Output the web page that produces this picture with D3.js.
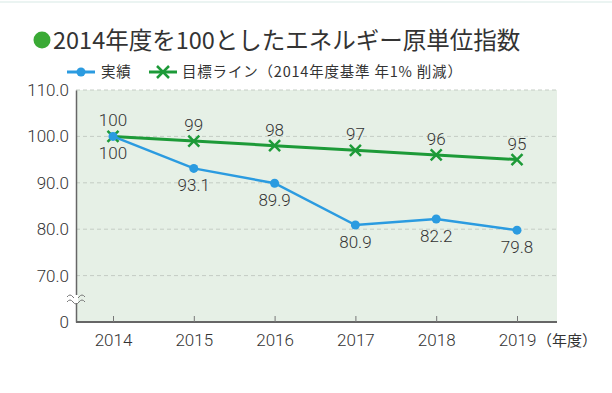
<!DOCTYPE html>
<html>
<head>
<meta charset="utf-8">
<script src="https://cdn.jsdelivr.net/npm/d3@7"></script>
<style>
	body { margin: 0; background: #fff; }
	text { font-family: "Noto Sans CJK JP", "Noto Sans", sans-serif; fill: #333; }
</style>
</head>
<body>
<svg id="chart" width="612" height="393"></svg>
<script>
// Data
var years = ["2014", "2015", "2016", "2017", "2018", "2019"];
var actual = [100, 93.1, 89.9, 80.9, 82.2, 79.8];
var actualLabels = ["100", "93.1", "89.9", "80.9", "82.2", "79.8"];
var target = [100, 99, 98, 97, 96, 95];
var targetLabels = ["100", "99", "98", "97", "96", "95"];
var yTicks = [60, 70, 80, 90, 100, 110];
var yTickLabels = ["0", "70.0", "80.0", "90.0", "100.0", "110.0"];

var blue = "#2b9be0",
	green = "#1d9a38",
	numFont = "Roboto, 'Noto Sans', sans-serif";

var svg = d3.select("#chart");

// Plot area
var pLeft = 76, pRight = 557, pTop = 90, pBottom = 322;

var x = d3.scalePoint()
	.domain(years)
	.range([113, 517]);

var y = d3.scaleLinear()
	.domain([60, 110])
	.range([pBottom, pTop]);

// faint top line
svg.append("line")
	.attr("x1", 0).attr("x2", 612)
	.attr("y1", 2).attr("y2", 2)
	.attr("stroke", "#e4f0ee")
	.attr("stroke-width", 1.5);

// Title
svg.append("circle")
	.attr("cx", 42).attr("cy", 40).attr("r", 8.5)
	.attr("fill", "#3aaa35");
svg.append("text")
	.attr("x", 53).attr("y", 49)
	.attr("font-size", 23.5)
	.text("2014年度を100としたエネルギー原単位指数");

// Legend
var lg = svg.append("g");
lg.append("line").attr("x1", 67).attr("x2", 95).attr("y1", 72).attr("y2", 72)
	.attr("stroke", blue).attr("stroke-width", 3);
lg.append("circle").attr("cx", 81).attr("cy", 72).attr("r", 4.5).attr("fill", blue);
lg.append("text").attr("x", 101).attr("y", 77).attr("font-size", 14.5)
	.attr("letter-spacing", 0.8).text("実績");

lg.append("line").attr("x1", 149).attr("x2", 177).attr("y1", 72).attr("y2", 72)
	.attr("stroke", green).attr("stroke-width", 3);
lg.append("path").attr("d", "M157,66 L169,78 M169,66 L157,78")
	.attr("stroke", green).attr("stroke-width", 2.5).attr("fill", "none");
lg.append("text").attr("x", 182).attr("y", 77).attr("font-size", 14.5)
	.attr("letter-spacing", 0.8)
	.text("目標ライン（2014年度基準 年1% 削減）");

// Background
svg.append("rect")
	.attr("x", pLeft).attr("y", pTop)
	.attr("width", pRight - pLeft).attr("height", pBottom - pTop)
	.attr("fill", "#e6f0e6");

// Grid
svg.append("g")
	.selectAll("line")
	.data(yTicks.filter(function (d) { return d > 60; }))
	.join("line")
	.attr("x1", pLeft).attr("x2", pRight)
	.attr("y1", function (d) { return y(d); })
	.attr("y2", function (d) { return y(d); })
	.attr("stroke", "#c4ccc4")
	.attr("stroke-dasharray", "4,3")
	.attr("stroke-width", 1);

// Y axis
var yAxis = d3.axisLeft(y)
	.tickValues(yTicks)
	.tickSize(0)
	.tickPadding(7)
	.tickFormat(function (d, i) { return yTickLabels[i]; });

var yg = svg.append("g")
	.attr("transform", "translate(" + pLeft + ",0)")
	.call(yAxis);
yg.select(".domain").attr("stroke", "#666").attr("stroke-width", 1.5);
yg.selectAll("text").attr("font-size", 17).attr("fill", "#333")
	.attr("font-weight", 300)
	.style("font-family", numFont);

// X axis
var xAxis = d3.axisBottom(x)
	.tickSize(-6)
	.tickPadding(12)
	.tickSizeOuter(0);

var xg = svg.append("g")
	.attr("transform", "translate(0," + pBottom + ")")
	.call(xAxis);
xg.select(".domain").attr("d", "M" + pLeft + ",0H" + pRight)
	.attr("stroke", "#666").attr("stroke-width", 2);
xg.selectAll(".tick line").attr("stroke", "#777");
xg.selectAll("text").attr("font-size", 17).attr("fill", "#333")
	.attr("font-weight", 300)
	.style("font-family", numFont);

svg.append("text")
	.attr("x", x("2019") + 20).attr("y", 346)
	.attr("font-size", 15)
	.text("（年度）");

// Axis break mark
var bk = svg.append("g").attr("fill", "none").attr("stroke", "#777").attr("stroke-width", 1);
svg.append("rect").attr("x", pLeft - 2).attr("y", 295).attr("width", 4).attr("height", 8).attr("fill", "#fff");
[0, 5].forEach(function (o) {
	var yy = 297 + o;
	bk.append("path")
		.attr("d", "M" + (pLeft - 9) + "," + yy + " q3,-4 6,0 t6,0 t6,0");
});

// Target line
var line = d3.line()
	.x(function (d, i) { return x(years[i]); })
	.y(function (d) { return y(d); });

svg.append("path")
	.datum(target)
	.attr("d", line)
	.attr("fill", "none")
	.attr("stroke", green)
	.attr("stroke-width", 3);

svg.append("g")
	.selectAll("path")
	.data(target)
	.join("path")
	.attr("d", function (d, i) {
		var cx = x(years[i]), cy = y(d), s = 5.5;
		return "M" + (cx - s) + "," + (cy - s) + "L" + (cx + s) + "," + (cy + s) +
			"M" + (cx + s) + "," + (cy - s) + "L" + (cx - s) + "," + (cy + s);
	})
	.attr("stroke", green)
	.attr("stroke-width", 2.5)
	.attr("fill", "none");

// Actual line
svg.append("path")
	.datum(actual)
	.attr("d", line)
	.attr("fill", "none")
	.attr("stroke", blue)
	.attr("stroke-width", 2.5);

svg.append("g")
	.selectAll("circle")
	.data(actual)
	.join("circle")
	.attr("cx", function (d, i) { return x(years[i]); })
	.attr("cy", function (d) { return y(d); })
	.attr("r", 4.5)
	.attr("fill", blue);

// Labels
svg.append("g")
	.selectAll("text")
	.data(target)
	.join("text")
	.attr("x", function (d, i) { return x(years[i]); })
	.attr("y", function (d) { return y(d) - 10; })
	.attr("text-anchor", "middle")
	.attr("font-size", 17)
	.attr("font-weight", 300)
	.style("font-family", numFont)
	.text(function (d, i) { return targetLabels[i]; });

svg.append("g")
	.selectAll("text")
	.data(actual)
	.join("text")
	.attr("x", function (d, i) { return x(years[i]); })
	.attr("y", function (d) { return y(d) + 23; })
	.attr("text-anchor", "middle")
	.attr("font-size", 17)
	.attr("font-weight", 300)
	.style("font-family", numFont)
	.text(function (d, i) { return actualLabels[i]; });
</script>
</body>
</html>
